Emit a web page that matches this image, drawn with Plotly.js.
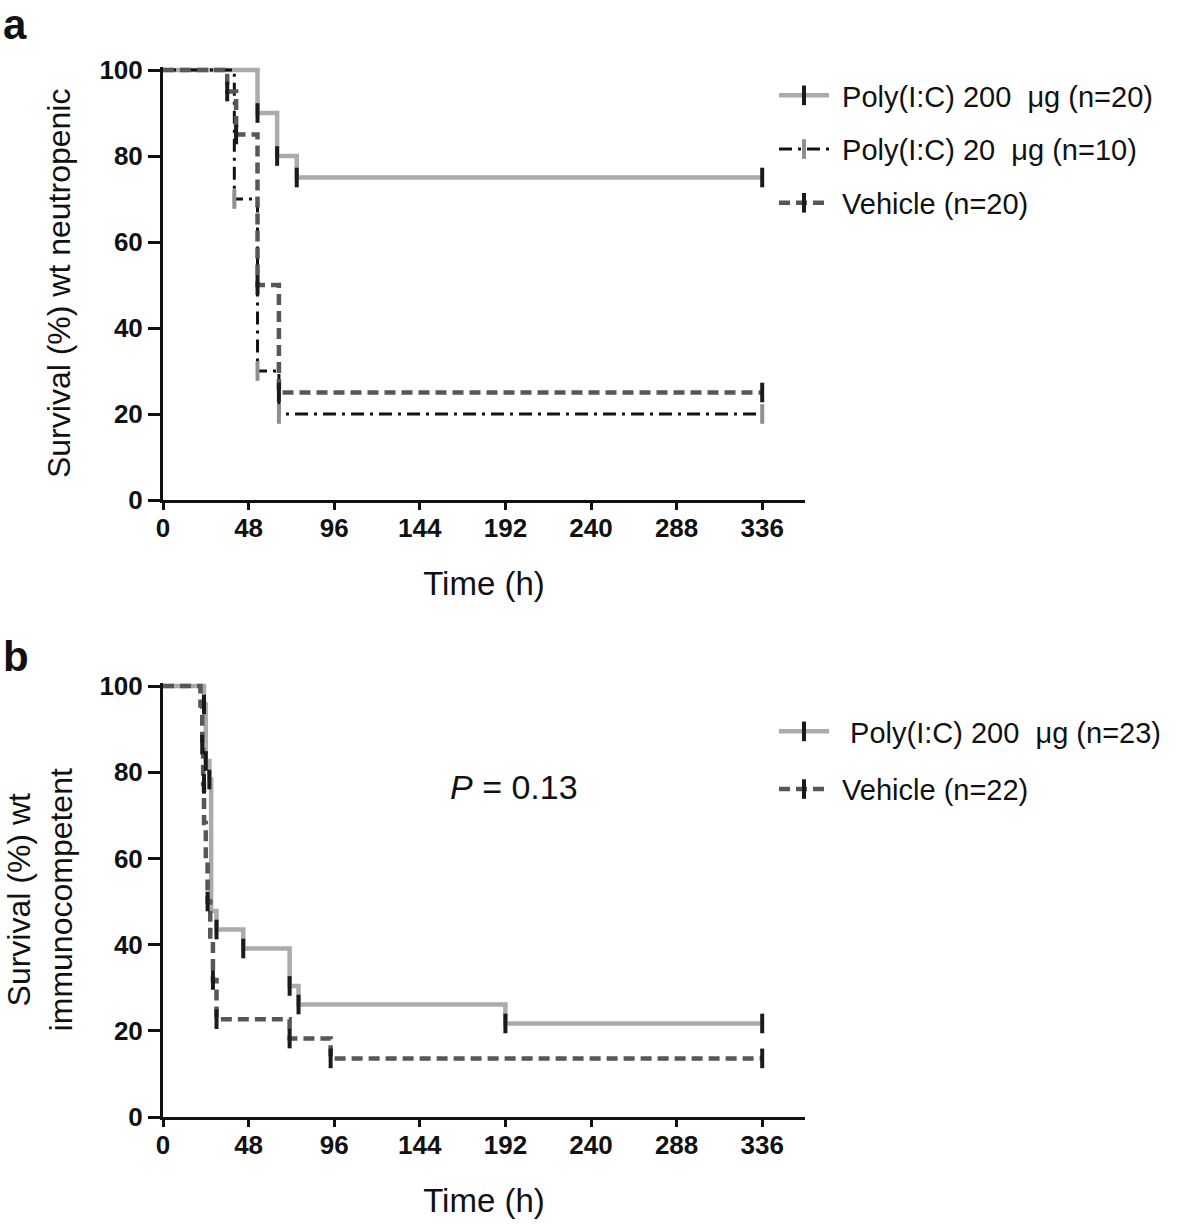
<!DOCTYPE html>
<html>
<head>
<meta charset="utf-8">
<script src="https://cdn.plot.ly/plotly-3.0.1.min.js"></script>
<style>html,body{margin:0;padding:0;background:#fff;}#chart{width:1181px;height:1224px;}</style>
</head>
<body>
<div id="chart"></div>
<script>
// ---------- Panel a data (wt neutropenic) ----------
const aTimeP200 = [0, 53, 64, 75, 336];
const aSurvP200 = [100, 90, 80, 75, 75];
const aCensTimeP200 = [53, 64, 75, 336];
const aCensSurvP200 = [90, 80, 75, 75];

const aTimeP20 = [0, 40, 53, 65, 336];
const aSurvP20 = [100, 70, 30, 20, 20];
const aCensTimeP20 = [40, 53, 65, 336];
const aCensSurvP20 = [70, 30, 20, 20];

const aTimeVeh = [0, 36, 41, 53, 65, 336];
const aSurvVeh = [100, 95, 85, 50, 25, 25];
const aCensTimeVeh = [36, 41, 53, 65, 336];
const aCensSurvVeh = [95, 85, 50, 25, 25];

// ---------- Panel b data (wt immunocompetent) ----------
const bTimeP200 = [0, 23, 24, 26, 27, 30, 45, 71, 76, 192, 336];
const bSurvP200 = [100, 95.7, 82.6, 78.3, 47.8, 43.5, 39.1, 30.4, 26.1, 21.7, 21.7];
const bCensTimeP200 = [23, 24, 26, 30, 45, 71, 76, 192, 336];
const bCensSurvP200 = [95.7, 82.6, 78.3, 43.5, 39.1, 30.4, 26.1, 21.7, 21.7];

const bTimeVeh = [0, 21, 22, 22.5, 23, 24, 25, 26.5, 28, 30, 71, 94, 336];
const bSurvVeh = [100, 95.5, 86.4, 77.3, 68.2, 59.1, 50, 40.9, 31.8, 22.7, 18.2, 13.6, 13.6];
const bCensTimeVeh = [22, 23, 25, 28, 30, 71, 94, 336];
const bCensSurvVeh = [86.4, 77.3, 50, 31.8, 22.7, 18.2, 13.6, 13.6];

const xTicks = [0, 48, 96, 144, 192, 240, 288, 336];
const yTicks = [0, 20, 40, 60, 80, 100];

const legendA = ["\u00a0Poly(I:C) 200\u00a0 μg (n=20)", "\u00a0Poly(I:C) 20\u00a0 μg (n=10)", "\u00a0Vehicle (n=20)"];
const legendB = ["\u00a0\u00a0Poly(I:C) 200\u00a0 μg (n=23)", "\u00a0Vehicle (n=22)"];

// ---------- styles ----------
const FONT = "Arial, 'Liberation Sans', sans-serif";
const sP200 = {color: '#ababab', width: 4.5};
const sP20 = {color: '#111111', width: 3, dash: '13px,6px,3px,6px'};
const sVeh = {color: '#575757', width: 4.5, dash: '11px,6px'};

function km(x, y, line, xa, ya) {
  return {x: x, y: y, xaxis: xa, yaxis: ya, mode: 'lines', line: Object.assign({shape: 'hv'}, line),
          showlegend: false, hoverinfo: 'skip'};
}
function cens(x, y, color, xa, ya) {
  return {x: x, y: y, xaxis: xa, yaxis: ya, mode: 'markers', cliponaxis: false,
          marker: {symbol: 'line-ns', size: 14, color: color, line: {color: color, width: 4}},
          showlegend: false, hoverinfo: 'skip'};
}
function leg(name, line, tickColor, legendId, grp) {
  return {x: [null], y: [null], xaxis: 'x', yaxis: 'y', name: name, mode: 'lines+markers',
          line: line, legend: legendId, legendgroup: grp,
          marker: {symbol: 'line-ns', size: 14, color: tickColor, line: {color: tickColor, width: 4}}};
}

const data = [
  km(aTimeP200, aSurvP200, sP200, 'x', 'y'),
  km(aTimeP20, aSurvP20, sP20, 'x', 'y'),
  km(aTimeVeh, aSurvVeh, sVeh, 'x', 'y'),
  cens(aCensTimeP200, aCensSurvP200, '#1a1a1a', 'x', 'y'),
  cens(aCensTimeP20, aCensSurvP20, '#8f8f8f', 'x', 'y'),
  cens(aCensTimeVeh, aCensSurvVeh, '#1a1a1a', 'x', 'y'),
  km(bTimeP200, bSurvP200, sP200, 'x2', 'y2'),
  km(bTimeVeh, bSurvVeh, sVeh, 'x2', 'y2'),
  cens(bCensTimeP200, bCensSurvP200, '#1a1a1a', 'x2', 'y2'),
  cens(bCensTimeVeh, bCensSurvVeh, '#1a1a1a', 'x2', 'y2'),
  leg(legendA[0], sP200, '#1a1a1a', 'legend', 'a1'),
  leg(legendA[1], sP20, '#8f8f8f', 'legend', 'a2'),
  leg(legendA[2], sVeh, '#1a1a1a', 'legend', 'a3'),
  leg(legendB[0], sP200, '#1a1a1a', 'legend2', 'b1'),
  leg(legendB[1], sVeh, '#1a1a1a', 'legend2', 'b2')
];

const W = 1181, H = 1224;
const px = v => v / W;
const py = v => 1 - v / H;

function xAxis(anchor, titleText) {
  return {
    anchor: anchor, domain: [px(163), px(805)], range: [0, 360],
    tickvals: xTicks, ticktext: xTicks.map(String),
    showline: true, linecolor: '#111', linewidth: 3, mirror: false,
    ticks: 'outside', ticklen: 7, tickwidth: 3, tickcolor: '#111', ticklabelstandoff: -4,
    showgrid: false, zeroline: false,
    tickfont: {family: FONT, size: 26, color: '#111', weight: 700},
    title: {text: titleText, font: {family: FONT, size: 33, color: '#111'}, standoff: 30},
    fixedrange: true
  };
}
function yAxis(anchor, top, bottom, titleText, standoff) {
  const span = bottom - top; // px for 100%
  const pad = 0.8; // % headroom so the top line is not clipped
  return {
    anchor: anchor, domain: [py(bottom), py(top - span * pad / 100)], range: [0, 100 + pad],
    tickvals: yTicks, ticktext: yTicks.map(String),
    showline: true, linecolor: '#111', linewidth: 3,
    ticks: 'outside', ticklen: 12, tickwidth: 3, tickcolor: '#111',
    showgrid: false, zeroline: false,
    tickfont: {family: FONT, size: 26, color: '#111', weight: 700},
    title: {text: titleText, font: {family: FONT, size: 32, color: '#111'}, standoff: standoff},
    fixedrange: true
  };
}

const layout = {
  width: W, height: H,
  margin: {l: 0, r: 0, t: 0, b: 0},
  paper_bgcolor: '#fff', plot_bgcolor: '#fff',
  font: {family: FONT, color: '#111'},
  xaxis: xAxis('y', 'Time (h)'),
  yaxis: yAxis('x', 70, 500, 'Survival (%) wt neutropenic', 20),
  xaxis2: xAxis('y2', 'Time (h)'),
  yaxis2: yAxis('x2', 686, 1117, 'Survival (%) wt<br>immunocompetent', 18),
  legend: {x: px(774), y: py(70), xanchor: 'left', yanchor: 'top', bgcolor: 'rgba(0,0,0,0)',
           font: {family: FONT, size: 29, color: '#111'}, traceorder: 'grouped', tracegroupgap: 13,
           itemwidth: 50},
  legend2: {x: px(774), y: py(706), xanchor: 'left', yanchor: 'top', bgcolor: 'rgba(0,0,0,0)',
            font: {family: FONT, size: 29, color: '#111'}, traceorder: 'grouped', tracegroupgap: 17,
            itemwidth: 50},
  annotations: [
    {text: '<b>a</b>', xref: 'paper', yref: 'paper', x: px(2), y: py(0), xanchor: 'left', yanchor: 'top',
     borderpad: 0, showarrow: false, font: {family: FONT, size: 42, color: '#111'}},
    {text: '<b>b</b>', xref: 'paper', yref: 'paper', x: px(2), y: py(632), xanchor: 'left', yanchor: 'top',
     borderpad: 0, showarrow: false, font: {family: FONT, size: 42, color: '#111'}},
    {text: '<i>P</i> = 0.13', xref: 'paper', yref: 'paper', x: px(514), y: py(787), xanchor: 'center', yanchor: 'middle',
     showarrow: false, font: {family: FONT, size: 34, color: '#111'}}
  ],
  showlegend: true
};

Plotly.newPlot('chart', data, layout, {displayModeBar: false, staticPlot: true});
</script>
</body>
</html>
